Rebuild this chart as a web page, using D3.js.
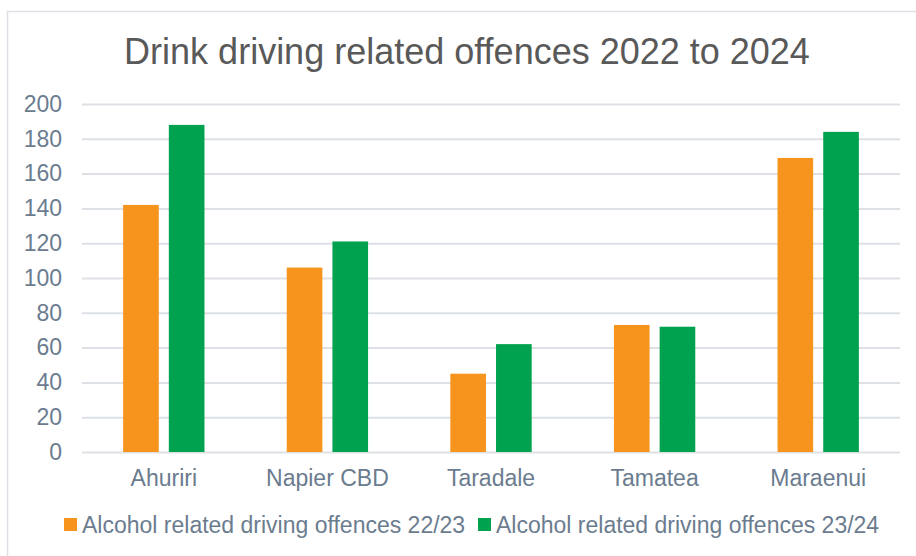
<!DOCTYPE html>
<html>
<head>
<meta charset="utf-8">
<script src="https://cdn.jsdelivr.net/npm/d3@7"></script>
<style>
  body { margin: 0; background: #fff; }
  text { font-family: "Liberation Sans", Arial, sans-serif; }
</style>
</head>
<body>
<svg id="chart"></svg>
<script>
const width = 916,
      height = 556;

const categories = ["Ahuriri", "Napier CBD", "Taradale", "Tamatea", "Maraenui"];
const seriesNames = ["Alcohol related driving offences 22/23", "Alcohol related driving offences 23/24"];
const values2223 = [142, 106, 45, 73, 169];
const values2324 = [188, 121, 62, 72, 184];
const yTicks = [0, 20, 40, 60, 80, 100, 120, 140, 160, 180, 200];

const colors = ["#f7941d", "#00a14f"];
const textColor = "#6b7c8f";

const margin = { top: 104, right: 16, bottom: 104, left: 82 };

const svg = d3.select("#chart")
  .attr("width", width)
  .attr("height", height);

// chart border (runs off the right and bottom edges)
svg.append("rect")
  .attr("x", 7.5).attr("y", 11.5)
  .attr("width", 940).attr("height", 600)
  .attr("fill", "none")
  .attr("stroke", "#dde1e6")
  .attr("stroke-width", 1.5);

svg.append("text")
  .attr("x", 467)
  .attr("y", 64)
  .attr("text-anchor", "middle")
  .attr("font-size", "36px")
  .attr("fill", "#595959")
  .text("Drink driving related offences 2022 to 2024");

const x = d3.scaleBand()
  .domain(categories)
  .range([margin.left, width - margin.right])
  .paddingInner(0)
  .paddingOuter(0);

const x1 = d3.scaleBand()
  .domain([0, 1])
  .range([0, x.bandwidth()])
  .paddingInner(0.22)
  .paddingOuter(0.9);

const y = d3.scaleLinear()
  .domain([0, 200])
  .range([height - margin.bottom, margin.top]);

const yAxis = svg.append("g")
  .attr("transform", `translate(${margin.left},0)`)
  .call(d3.axisLeft(y).tickValues(yTicks).tickSize(-(width - margin.left - margin.right)).tickPadding(20));

yAxis.select(".domain").remove();
yAxis.selectAll(".tick line")
  .attr("stroke", "#dde1e6")
  .attr("stroke-width", 2);
yAxis.selectAll(".tick text")
  .attr("font-size", "23px")
  .attr("fill", textColor)
  .attr("font-family", "Liberation Sans, Arial, sans-serif");

const groups = svg.append("g")
  .selectAll("g")
  .data(categories)
  .join("g")
  .attr("transform", d => `translate(${x(d)},0)`);

groups.selectAll("rect")
  .data((d, i) => [values2223[i], values2324[i]])
  .join("rect")
  .attr("x", (d, j) => x1(j))
  .attr("y", d => y(d))
  .attr("width", x1.bandwidth())
  .attr("height", d => y(0) - y(d))
  .attr("fill", (d, j) => colors[j]);

const xAxis = svg.append("g")
  .attr("transform", `translate(0,${height - margin.bottom})`)
  .call(d3.axisBottom(x).tickSize(0).tickPadding(18));

xAxis.select(".domain").remove();
xAxis.selectAll(".tick text")
  .attr("font-size", "23px")
  .attr("fill", textColor)
  .attr("font-family", "Liberation Sans, Arial, sans-serif");

// legend
const legendX = [64, 478];
const legend = svg.append("g")
  .selectAll("g")
  .data(seriesNames)
  .join("g")
  .attr("transform", (d, i) => `translate(${legendX[i]},525)`);

legend.append("rect")
  .attr("x", 0).attr("y", -7)
  .attr("width", 13).attr("height", 13)
  .attr("fill", (d, i) => colors[i]);

legend.append("text")
  .attr("x", 18)
  .attr("y", 8)
  .attr("font-size", "23px")
  .attr("fill", textColor)
  .text(d => d);
</script>
</body>
</html>
